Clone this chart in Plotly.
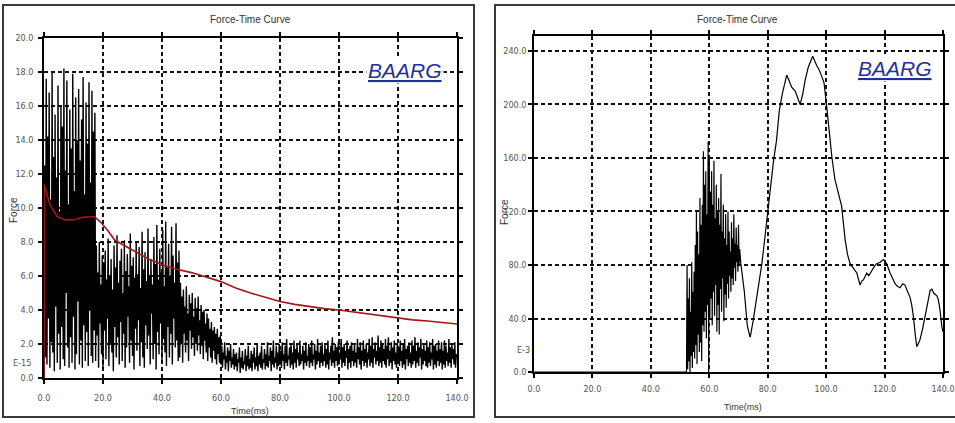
import numpy as np
import plotly.graph_objects as go

W, H = 955, 423

# ---------------- Left chart data (Force vs Time, sampled every 0.25 ms) ----------------
left_dt = 0.25
left_seg_a = [0.0, 12.5, 1.2, 17.6, 0.8, 14.2, 3.5, 16.8, 0.6, 10.5,
              2.1, 18.0, 1.5, 13.0, 0.4, 15.5, 4.2, 11.8, 0.9, 17.2,
              2.6, 9.8, 0.5, 16.0, 3.0, 14.8, 1.1, 18.2, 0.7, 12.2,
              5.0, 17.5, 1.8, 10.2, 0.6, 15.8, 2.4, 13.5, 0.9, 17.9,
              3.6, 11.0, 0.5, 16.5, 1.4, 14.0, 4.5, 17.0, 0.8, 12.8,
              2.2, 15.2, 0.6, 17.7, 3.1, 10.8, 1.0, 16.2, 2.7, 13.8,
              0.7, 17.4, 4.0, 11.5, 1.3, 16.9, 0.9, 14.5, 2.8, 15.6]
left_seg_b = [1.0, 7.8, 2.5, 6.2, 0.6, 8.0, 3.2, 5.5, 1.4, 7.2,
              0.5, 6.8, 2.8, 7.5, 1.1, 5.8, 3.5, 8.2, 0.7, 6.0,
              2.0, 7.0, 1.5, 5.2, 0.4, 7.8, 3.0, 6.5, 1.2, 8.4,
              2.4, 5.6, 0.8, 6.9, 3.3, 7.6, 1.0, 5.0, 2.6, 8.1,
              0.6, 6.3, 1.8, 7.3, 3.6, 5.4, 0.9, 8.5, 2.2, 6.6,
              1.3, 7.1, 0.5, 5.9, 2.9, 8.0, 1.6, 6.1, 3.4, 7.7,
              0.7, 5.3, 2.1, 8.6, 1.2, 6.4, 0.6, 7.4, 3.1, 5.7,
              1.7, 8.8, 2.5, 6.0, 0.8, 7.0, 3.8, 5.5, 1.1, 8.3,
              2.0, 6.7, 0.5, 9.0, 2.7, 5.8, 1.4, 7.6, 3.2, 6.2,
              0.9, 8.7, 2.3, 5.4, 1.5, 9.2, 0.7, 6.5, 3.0, 7.9,
              1.2, 6.0, 2.6, 8.9, 0.8, 7.2, 3.5, 5.6, 1.8, 9.1,
              2.2, 6.8, 1.0, 7.5]
left_seg_c = [1.2, 5.6, 2.0, 4.8, 0.9, 5.2, 2.6, 4.2, 1.5, 5.4,
              2.2, 3.8, 1.0, 4.9, 2.8, 4.4, 1.7, 5.0, 2.4, 3.6,
              1.3, 4.7, 2.0, 4.1, 1.6, 4.8, 2.5, 3.4, 1.4, 4.3,
              1.9, 3.9, 1.1, 4.0, 2.2, 3.2, 1.5, 3.8, 1.0, 3.5,
              1.8, 2.9, 1.2, 3.3, 0.9, 2.8, 1.6, 3.0, 1.1, 2.6,
              0.8, 2.9, 1.4, 2.4, 0.9, 2.5]
left_seg_d = [0.8, 1.9, 0.6, 1.5, 1.1, 2.1, 0.5, 1.3, 0.9, 1.8, 0.4, 1.6, 1.0, 2.0, 0.6, 1.2, 0.8, 1.7, 0.5, 1.4,
              0.7, 1.5, 0.4, 1.1, 0.9, 1.8, 0.3, 1.2, 0.6, 1.6, 0.5, 1.0, 0.8, 1.7, 0.4, 1.3, 0.7, 1.9, 0.5, 1.1,
              0.6, 1.6, 0.4, 1.4, 0.9, 1.8, 0.5, 1.2, 0.7, 2.0, 0.4, 1.3, 0.8, 1.5, 0.6, 1.9, 0.5, 1.1, 0.9, 1.7,
              0.5, 1.4, 0.7, 2.1, 0.6, 1.3, 1.0, 1.8, 0.4, 1.6, 0.8, 2.2, 0.6, 1.2, 0.9, 1.9, 0.5, 1.5, 0.7, 2.0,
              0.8, 1.6, 0.6, 2.1, 1.0, 1.4, 0.5, 1.9, 0.9, 2.3, 0.7, 1.3, 1.1, 1.8, 0.6, 2.0, 0.8, 1.5, 0.5, 2.2,
              0.9, 1.7, 0.6, 2.0, 1.1, 1.5, 0.7, 2.2, 0.8, 1.4, 1.0, 1.9, 0.5, 1.6, 0.9, 2.1, 0.7, 1.3, 1.0, 2.0,
              0.6, 1.8, 0.9, 2.2, 0.7, 1.4, 1.1, 2.0, 0.5, 1.6, 0.8, 2.3, 1.0, 1.5, 0.6, 1.9, 0.9, 2.1, 0.7, 1.4,
              1.0, 2.0, 0.6, 1.7, 0.8, 2.2, 0.5, 1.5, 1.1, 1.9, 0.7, 2.4, 0.9, 1.6, 0.6, 2.0, 1.0, 1.8, 0.7, 2.1,
              0.8, 1.5, 1.1, 2.3, 0.6, 1.8, 0.9, 2.0, 0.7, 1.6, 1.2, 2.2, 0.5, 1.7, 0.9, 1.9, 0.6, 2.1, 1.0, 1.6,
              0.7, 2.0, 0.9, 1.5, 0.6, 2.3, 1.1, 1.8, 0.8, 2.1, 0.5, 1.6, 1.0, 2.2, 0.7, 1.7, 0.9, 2.0, 0.6, 1.5,
              1.1, 2.3, 0.7, 1.9, 0.9, 2.4, 0.6, 1.7, 1.2, 2.1, 0.8, 1.6, 1.0, 2.5, 0.7, 1.8, 0.9, 2.2, 0.6, 2.0,
              1.0, 1.7, 0.8, 2.3, 0.6, 1.9, 1.1, 2.4, 0.7, 1.6, 0.9, 2.1, 0.5, 1.8, 1.0, 2.2, 0.8, 1.5, 0.6, 2.0,
              0.9, 1.8, 0.7, 2.2, 1.0, 1.6, 0.6, 2.0, 0.8, 2.3, 0.5, 1.7, 1.1, 1.9, 0.7, 2.1, 0.9, 1.5, 0.6, 2.2,
              0.8, 1.9, 1.0, 2.4, 0.6, 1.6, 0.9, 2.1, 0.7, 1.8, 1.2, 2.3, 0.5, 1.7, 0.8, 2.0, 1.0, 1.6, 0.7, 2.2,
              0.6, 1.8, 0.9, 2.1, 0.7, 1.5, 1.1, 2.3, 0.5, 1.9, 0.8, 2.0, 0.6, 1.6, 1.0, 2.2, 0.7, 1.7, 0.9, 2.1,
              0.5, 1.6, 0.8, 2.2, 0.6, 1.9, 1.0, 1.5, 0.7, 2.3, 0.9, 1.8, 0.6, 2.0, 1.1, 1.7, 0.8, 2.1, 0.6, 1.4,
              1.2]

# red running curve on the left chart
left_red_t = [0, 0.05, 1, 2, 3, 4.5, 7, 10, 13, 17, 19, 21.5, 24, 28, 32, 36, 41, 45, 50, 55,
              60, 65, 70, 75, 80, 85, 90, 95, 100, 105, 110, 115, 120, 125, 130, 135, 140]
left_red_v = [0, 11.4, 10.8, 10.2, 9.9, 9.5, 9.3, 9.3, 9.45, 9.5, 9.2, 8.7, 8.1, 7.7, 7.3, 6.95, 6.6, 6.4, 6.2, 5.95,
              5.67, 5.3, 5.0, 4.75, 4.5, 4.33, 4.2, 4.08, 4.0, 3.88, 3.76, 3.63, 3.5, 3.42, 3.35, 3.26, 3.18]

# ---------------- Right chart data ----------------
right_flat_t = [0, 52.2]
right_flat_v = [0, 0]
right_dense_start = 52.4
right_dense_dt = 0.2
right_dense_v = [80, 2, 55, 8, 70, 0, 45, 12, 82, 3, 60, 15, 75,
                 10, 95, 20, 120, 6, 105, 28, 88, 15, 130, 22, 110, 8, 125, 35,
                 165, 30, 140, 45, 150, 25, 118, 50, 172, 0,
                 160, 40, 135, 55, 150, 35, 125, 60, 158, 42, 115, 65, 140, 30, 120,
                 50, 130, 28, 110, 62, 148, 45, 105, 70, 125, 38, 100, 58, 118, 48,
                 95, 66, 120, 55, 105, 72, 90, 60, 112, 70,
                 100, 65, 118, 78, 96, 68, 108, 82, 95, 75, 110, 80, 92, 85, 81]
right_smooth_t = [72, 73, 73.5, 74, 75, 76.2, 77, 78, 79, 80, 81, 82, 83, 84, 85, 86, 86.5, 87.3, 88.2, 89.4,
                  90.2, 91.1, 92, 92.8, 93.9, 95.4, 96.8, 97.6, 98.5, 99.3, 100.2, 101.3, 102, 103, 104, 105.3,
                  106.5, 107.3, 108.2, 109.3, 110.5, 111.6, 112.2, 112.8, 113.9, 114.6, 115.6, 116.5, 117.3,
                  118.5, 119.6, 120.7, 121.9, 122.7, 123.6, 124.4, 125.3, 126.2, 127, 127.9, 128.7, 129.3,
                  129.9, 130.5, 131, 131.5, 132.1, 133, 133.9, 134.8, 135.6, 136.2, 136.8, 137.3, 137.9,
                  138.4, 139, 139.6, 140]
right_smooth_v = [60, 35, 30, 26, 38, 54, 66, 81, 100, 121, 140, 158, 173, 196, 208, 218, 222, 218, 213, 210,
                  205, 200, 208, 218, 228, 236, 229, 226, 221, 216, 198, 173, 160, 144, 135, 124,
                  99, 88, 81, 78, 74, 65, 68, 69, 74, 72, 76, 79, 81,
                  82, 84, 81, 74, 70, 66, 64, 63, 66, 65, 60, 56, 50,
                  41, 28, 19, 21, 24, 32, 41, 52, 61, 62, 59, 58, 57,
                  54, 46, 34, 30]

# ---------------- build series ----------------
left_v = left_seg_a + left_seg_b + left_seg_c + left_seg_d
left_t = (np.arange(len(left_v)) * left_dt).tolist()

right_dense_t = (right_dense_start + np.arange(len(right_dense_v)) * right_dense_dt).tolist()
right_t = right_flat_t + right_dense_t + right_smooth_t
right_v = right_flat_v + right_dense_v + right_smooth_v

def px(x):
    return x / W

def py(y):
    return 1 - y / H

TICK_FONT = dict(family="Liberation Sans Narrow, DejaVu Sans Condensed, Liberation Sans, Arial", size=9, color="#555")
TXT_FONT = dict(family="Liberation Sans, Arial", size=10, color="#333")

fig = go.Figure()
fig.add_trace(go.Scatter(x=left_t, y=left_v, mode="lines", line=dict(color="black", width=1.4),
                         xaxis="x", yaxis="y", showlegend=False, hoverinfo="skip"))
fig.add_trace(go.Scatter(x=left_red_t, y=left_red_v, mode="lines", line=dict(color="#a3161a", width=1.6),
                         xaxis="x", yaxis="y", showlegend=False, hoverinfo="skip"))
fig.add_trace(go.Scatter(x=right_t, y=right_v, mode="lines", line=dict(color="black", width=1.2),
                         xaxis="x2", yaxis="y2", showlegend=False, hoverinfo="skip"))

axis_common = dict(showline=True, linecolor="black", linewidth=1.5, mirror="ticks",
                   ticks="outside", ticklen=4, tickwidth=1.5, tickcolor="black",
                   showgrid=True, gridcolor="#111", gridwidth=1.5, griddash="4px,3px",
                   zeroline=False, tickfont=TICK_FONT, tickformat=".1f", fixedrange=True,
                   automargin=False)

fig.update_layout(
    width=W, height=H, autosize=False,
    margin=dict(l=0, r=0, t=0, b=0, pad=0),
    paper_bgcolor="white", plot_bgcolor="white",
    xaxis=dict(domain=[px(44), px(457)], range=[0, 140], dtick=20, anchor="y",
               ticklabelstandoff=6, **axis_common),
    yaxis=dict(domain=[py(378), py(38)], range=[0, 20], dtick=2, anchor="x",
               ticklabelstandoff=3, **axis_common),
    xaxis2=dict(domain=[px(534), px(943)], range=[0, 140], dtick=20, anchor="y2",
                ticklabelstandoff=3, **axis_common),
    yaxis2=dict(domain=[py(372), py(36)], range=[0, 251.2], dtick=40, anchor="x2",
                ticklabelstandoff=0, **axis_common),
)

# outer frames
fig.add_shape(type="rect", xref="paper", yref="paper", x0=px(3), x1=px(474), y0=py(417), y1=py(5),
              line=dict(color="#3a3a3a", width=2), layer="below")
fig.add_shape(type="rect", xref="paper", yref="paper", x0=px(495), x1=px(958), y0=py(417), y1=py(5),
              line=dict(color="#3a3a3a", width=2), layer="below")

def ann(x, y, text, font, **kw):
    fig.add_annotation(x=px(x), y=py(y), xref="paper", yref="paper", text=text, showarrow=False,
                       font=font, xanchor=kw.pop("xanchor", "center"), yanchor=kw.pop("yanchor", "middle"), **kw)

ann(250, 20, "Force-Time Curve", TXT_FONT)
ann(737, 20, "Force-Time Curve", TXT_FONT)
ann(250, 411, "Time(ms)", dict(TXT_FONT, size=9))
ann(743, 407, "Time(ms)", dict(TXT_FONT, size=9))
ann(13, 210, "Force", dict(TXT_FONT, size=10), textangle=-90)
ann(505, 212, "Force", dict(TXT_FONT, size=10), textangle=-90)
ann(22, 363, "E-15", TICK_FONT)
ann(523, 350, "E-3", TICK_FONT)

BAARG_FONT = dict(family="Liberation Sans, Arial", size=21, color="#1f2f9e")
ann(405, 70, "<i><u>BAARG</u></i>", BAARG_FONT, bgcolor="white")
ann(895, 68, "<i><u>BAARG</u></i>", BAARG_FONT, bgcolor="white")

fig.write_html("out.html",
               config={"displayModeBar": False},
               post_script="document.body.style.margin='0px';document.body.style.padding='0px';"
                           "document.documentElement.style.overflow='hidden';")
